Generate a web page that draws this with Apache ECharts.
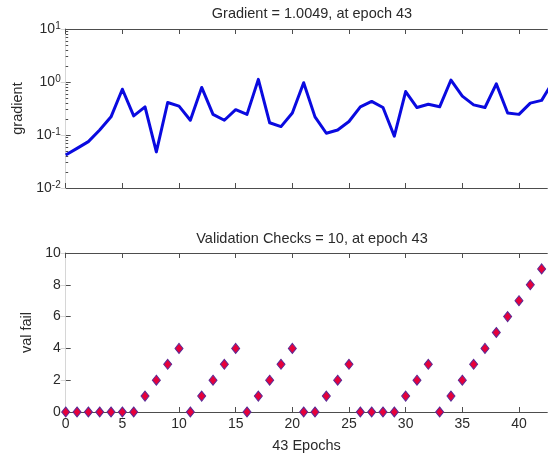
<!DOCTYPE html>
<html>
<head>
<meta charset="utf-8">
<script src="https://cdn.jsdelivr.net/npm/echarts@6/dist/echarts.min.js"></script>
<style>
  html, body { margin: 0; padding: 0; background: #fff; }
  #chart { width: 548px; height: 455px; }
</style>
</head>
<body>
<div id="chart"></div>
<script>
// Training state: gradient per epoch and validation failure count per epoch
const epochs = [0, 1, 2, 3, 4, 5, 6, 7, 8, 9, 10, 11, 12, 13, 14, 15, 16, 17, 18, 19, 20, 21,
  22, 23, 24, 25, 26, 27, 28, 29, 30, 31, 32, 33, 34, 35, 36, 37, 38, 39, 40, 41, 42, 43];

const gradient = [0.042, 0.056, 0.075, 0.124, 0.22, 0.73, 0.23, 0.34, 0.048, 0.41, 0.35,
  0.19, 0.79, 0.245, 0.19, 0.30, 0.245, 1.12, 0.17, 0.144, 0.26, 0.97, 0.22, 0.108, 0.124,
  0.18, 0.34, 0.43, 0.33, 0.095, 0.66, 0.33, 0.38, 0.34, 1.09, 0.54, 0.37, 0.33, 0.92, 0.26,
  0.245, 0.40, 0.45, 1.0049];

const valFail = [0, 0, 0, 0, 0, 0, 0, 1, 2, 3, 4, 0, 1, 2, 3, 4, 0, 1, 2, 3, 4, 0, 0, 1, 2, 3,
  0, 0, 0, 0, 1, 2, 3, 0, 1, 2, 3, 4, 5, 6, 7, 8, 9, 10];

const epochTicks = [0, 5, 10, 15, 20, 25, 30, 35, 40];
const gradTicks = [0.01, 0.1, 1, 10];
const gradMinorTicks = [0.02, 0.03, 0.04, 0.05, 0.06, 0.07, 0.08, 0.09,
  0.2, 0.3, 0.4, 0.5, 0.6, 0.7, 0.8, 0.9, 2, 3, 4, 5, 6, 7, 8, 9];
const failTicks = [0, 2, 4, 6, 8, 10];

const titleGradient = 'Gradient = 1.0049, at epoch 43';
const titleChecks = 'Validation Checks = 10, at epoch 43';

const FONT = '"Liberation Sans", Arial, Helvetica, sans-serif';
const FRAME = '#4d4d4d';
const FAINT = '#d6d6d6';
const TEXT = '#2a2a2a';

const plotLeft = 65.7, plotWidth = 481.6, plotHeight = 159;
const X_MAX = 42.5;

function frameX(gridIndex, position, withLabels) {
  return {
    type: 'value', gridIndex, position, min: 0, max: X_MAX,
    axisLine: { show: true, onZero: false, lineStyle: { color: FRAME, width: 1 } },
    axisTick: { show: true, inside: true, length: 5, customValues: epochTicks,
      lineStyle: { color: FRAME } },
    axisLabel: withLabels
      ? { show: true, customValues: epochTicks, color: TEXT, fontSize: 14, fontFamily: FONT, margin: 5 }
      : { show: false },
    splitLine: { show: false }
  };
}

const chart = echarts.init(document.getElementById('chart'), null, { renderer: 'canvas' });

chart.setOption({
  animation: false,
  backgroundColor: '#ffffff',
  textStyle: { fontFamily: FONT },
  title: [
    { text: titleGradient, left: 307, top: 1, textAlign: 'center',
      textStyle: { fontSize: 14.5, fontWeight: 'normal', color: TEXT, fontFamily: FONT } },
    { text: titleChecks, left: 307, top: 226, textAlign: 'center',
      textStyle: { fontSize: 14.5, fontWeight: 'normal', color: TEXT, fontFamily: FONT } }
  ],
  grid: [
    { left: plotLeft, top: 29, width: plotWidth, height: plotHeight, containLabel: false },
    { left: plotLeft, top: 253, width: plotWidth, height: plotHeight, containLabel: false }
  ],
  xAxis: [
    frameX(0, 'bottom', false),
    frameX(0, 'top', false),
    Object.assign(frameX(1, 'bottom', true), {
      name: '43 Epochs', nameLocation: 'middle', nameGap: 26,
      nameTextStyle: { fontSize: 14.5, color: TEXT, fontFamily: FONT }
    }),
    frameX(1, 'top', false)
  ],
  yAxis: [
    {
      type: 'log', logBase: 10, gridIndex: 0, position: 'left', min: 0.01, max: 10,
      name: 'gradient', nameLocation: 'middle', nameGap: 34,
      nameTextStyle: { fontSize: 14.5, color: TEXT, fontFamily: FONT },
      axisLine: { show: true, lineStyle: { color: FRAME } },
      axisTick: { show: true, inside: true, length: 5, customValues: gradTicks, lineStyle: { color: FRAME } },
      axisLabel: {
        show: true, customValues: gradTicks, margin: 5,
        formatter: v => '{b|10}{s|' + Math.round(Math.log10(v)) + '}',
        rich: {
          b: { fontSize: 14, color: TEXT, fontFamily: FONT, verticalAlign: 'bottom', lineHeight: 15, padding: [9, 0, 0, 0] },
          s: { fontSize: 10, color: TEXT, fontFamily: FONT, verticalAlign: 'top', lineHeight: 11 }
        }
      },
      splitLine: { show: false }
    },
    {
      type: 'log', logBase: 10, gridIndex: 0, position: 'right', min: 0.01, max: 10,
      axisLine: { show: true, lineStyle: { color: FAINT } },
      axisTick: { show: true, inside: true, length: 5, customValues: gradTicks, lineStyle: { color: FAINT } },
      axisLabel: { show: false },
      splitLine: { show: false }
    },
    {
      type: 'log', logBase: 10, gridIndex: 0, position: 'left', min: 0.01, max: 10,
      axisLine: { show: false },
      axisTick: { show: true, inside: true, length: 2.5, customValues: gradMinorTicks, lineStyle: { color: FRAME } },
      axisLabel: { show: false },
      splitLine: { show: false }
    },
    {
      type: 'value', gridIndex: 1, position: 'left', min: 0, max: 10, interval: 2,
      name: 'val fail', nameLocation: 'middle', nameGap: 29,
      nameTextStyle: { fontSize: 14.5, color: TEXT, fontFamily: FONT },
      axisLine: { show: true, lineStyle: { color: FRAME } },
      axisTick: { show: true, inside: true, length: 5, customValues: failTicks, lineStyle: { color: FRAME } },
      axisLabel: { show: true, customValues: failTicks, color: TEXT, fontSize: 14, fontFamily: FONT, margin: 5 },
      splitLine: { show: false }
    },
    {
      type: 'value', gridIndex: 1, position: 'right', min: 0, max: 10, interval: 2,
      axisLine: { show: true, lineStyle: { color: FAINT } },
      axisTick: { show: true, inside: true, length: 5, customValues: failTicks, lineStyle: { color: FAINT } },
      axisLabel: { show: false },
      splitLine: { show: false }
    }
  ],
  series: [
    {
      name: 'gradient', type: 'line', xAxisIndex: 0, yAxisIndex: 0,
      data: epochs.map((e, i) => [e, gradient[i]]),
      showSymbol: false, symbol: 'none', clip: true,
      lineStyle: { color: '#0a0ae0', width: 3, join: 'round' }
    },
    {
      name: 'val fail', type: 'scatter', xAxisIndex: 2, yAxisIndex: 3,
      data: epochs.map((e, i) => [e, valFail[i]]),
      symbol: 'diamond', symbolSize: [8, 10], clip: true,
      itemStyle: { color: '#e6003a', borderColor: '#5b2a96', borderWidth: 1, opacity: 1 }
    }
  ]
});
</script>
</body>
</html>
